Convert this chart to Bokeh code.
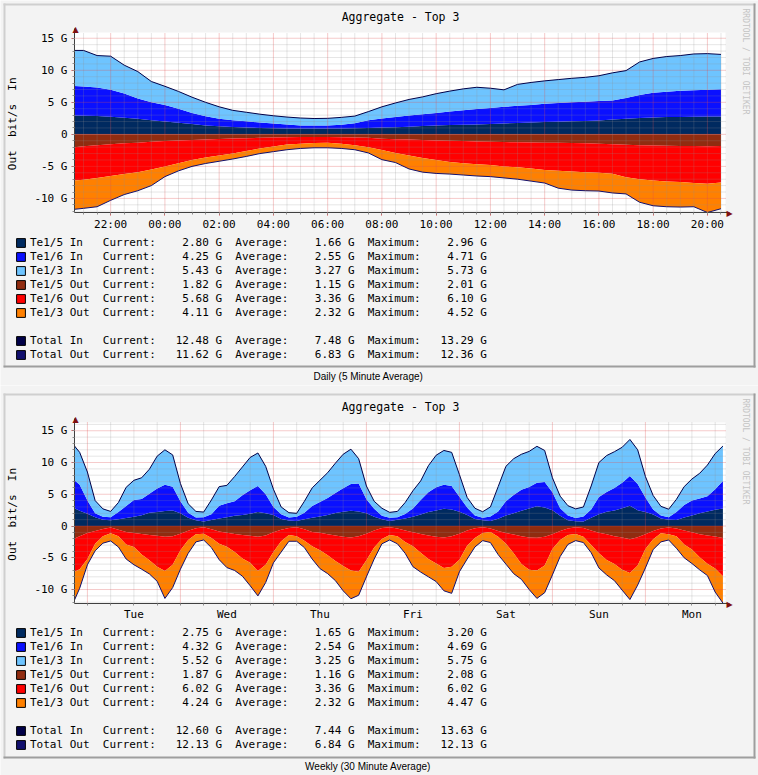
import math
from bokeh.plotting import figure
from bokeh.layouts import column
from bokeh.models import (ColumnDataSource, Range1d, FixedTicker, Label, LinearAxis,
                          Legend, LegendItem, BoxAnnotation)
from bokeh.embed import file_html
from bokeh.resources import INLINE

MONO = "DejaVu Sans Mono"
SANS = "Liberation Sans"
BG = "#f3f3f3"
NB = "\u00a0"
NAN = float("nan")

series_names = ["Te1/5 In", "Te1/6 In", "Te1/3 In", "Te1/5 Out", "Te1/6 Out", "Te1/3 Out"]
series_colors = ["#002a60", "#0a10ff", "#6ec4ff", "#902c10", "#ff0000", "#ff8000"]
total_names = ["Total In", "Total Out"]
total_colors = ["#000048", "#12106e"]

# ---------------- Daily (hours since midnight of first day) ----------------
day_times = [20 + 40 / 60] + [21.0 + 0.5 * i for i in range(48)]
day_te15_in = [2.95, 2.9, 2.85, 2.75, 2.6, 2.45, 2.2, 2.0, 1.8, 1.6,
               1.4, 1.25, 1.15, 1.05, 1.0, 0.95, 0.92, 0.9, 0.9, 0.9,
               0.9, 0.95, 1.0, 1.05, 1.1, 1.2, 1.3, 1.38, 1.45, 1.5,
               1.55, 1.6, 1.7, 1.78, 1.85, 1.92, 1.98, 2.05, 2.1, 2.15,
               2.3, 2.45, 2.55, 2.65, 2.7, 2.72, 2.75, 2.78, 2.80]
day_te16_in = [4.6, 4.57, 4.48, 4.23, 3.76, 3.13, 2.82, 2.57, 2.18, 1.75,
               1.42, 1.17, 1.05, 0.98, 0.86, 0.75, 0.63, 0.5, 0.5, 0.5,
               0.6, 0.8, 1.22, 1.43, 1.62, 1.74, 1.85, 1.96, 2.1, 2.25,
               2.4, 2.5, 2.6, 2.67, 2.75, 2.86, 2.9, 2.95, 2.99, 3.05,
               3.0, 3.23, 3.6, 3.85, 3.95, 4.08, 4.13, 4.17, 4.25]
day_te13_in = [5.55, 5.63, 4.97, 5.22, 4.44, 4.22, 3.23, 2.93, 2.72, 2.45,
               2.18, 1.88, 1.55, 1.42, 1.29, 1.2, 1.15, 1.15, 1.07, 1.1,
               1.15, 1.1, 1.33, 1.82, 2.18, 2.51, 2.7, 3.01, 3.2, 3.35,
               3.4, 3.1, 2.65, 3.35, 3.5, 3.57, 3.67, 3.75, 3.81, 3.95,
               4.3, 4.27, 5.15, 5.35, 5.5, 5.5, 5.67, 5.65, 5.43]
day_te15_out = [2.0, 1.85, 1.7, 1.55, 1.4, 1.3, 1.15, 1.05, 0.95, 0.88,
                0.8, 0.72, 0.65, 0.6, 0.55, 0.5, 0.45, 0.42, 0.42, 0.42,
                0.45, 0.5, 0.55, 0.68, 0.75, 0.82, 0.88, 0.95, 1.0, 1.05,
                1.1, 1.15, 1.2, 1.25, 1.28, 1.3, 1.33, 1.35, 1.38, 1.45,
                1.55, 1.62, 1.7, 1.75, 1.78, 1.82, 1.82, 1.85, 1.82]
day_te16_out = [5.2, 5.25, 5.1, 4.95, 4.8, 4.6, 4.35, 3.95, 3.55, 3.12,
                2.8, 2.58, 2.35, 2.0, 1.65, 1.4, 1.15, 1.03, 0.93, 0.88,
                1.0, 1.2, 1.45, 1.77, 2.15, 2.48, 2.82, 3.05, 3.3, 3.45,
                3.55, 3.65, 3.8, 3.9, 4.07, 4.25, 4.37, 4.45, 4.52, 4.55,
                4.6, 5.08, 5.3, 5.45, 5.57, 5.63, 5.78, 5.85, 5.68]
day_te13_out = [4.5, 4.45, 4.5, 3.8, 3.2, 2.9, 2.5, 1.6, 1.2, 1.0,
                0.95, 0.9, 0.85, 0.85, 0.8, 0.8, 0.8, 0.75, 0.75, 0.8,
                0.75, 0.7, 0.9, 1.5, 1.5, 2.1, 2.2, 2.1, 1.9, 1.85,
                1.85, 1.8, 1.8, 1.85, 1.95, 2.05, 2.7, 2.9, 2.9, 2.85,
                3.0, 2.6, 3.6, 3.95, 3.95, 3.9, 3.7, 4.5, 4.11]

day_current = [2.80, 4.25, 5.43, 1.82, 5.68, 4.11]
day_average = [1.66, 2.55, 3.27, 1.15, 3.36, 2.32]
day_maximum = [2.96, 4.71, 5.73, 2.01, 6.10, 4.52]
day_total_current = [12.48, 11.62]
day_total_average = [7.48, 6.83]
day_total_maximum = [13.29, 12.36]

day_tick_hours = [22, 24, 26, 28, 30, 32, 34, 36, 38, 40, 42, 44]
day_tick_labels = ["22:00", "00:00", "02:00", "04:00", "06:00", "08:00",
                   "10:00", "12:00", "14:00", "16:00", "18:00", "20:00"]

# ---------------- Weekly (hours since Monday 00:00) ----------------
week_times = [20 + 40 / 60, 22.0] + [24 + 2 * k for k in range(83)]
week_te15_in = [2.8, 2.4, 1.95, 1.4, 1.0, 0.9, 1.05, 1.25, 1.45, 1.7, 2.1, 2.2,
                2.35, 2.45, 2.0, 1.3, 0.9, 0.7, 0.95, 1.2, 1.4, 1.6,
                1.75, 1.95, 2.2, 2.0, 1.75, 1.1, 0.85, 0.8, 1.05, 1.3,
                1.5, 1.75, 2.05, 2.25, 2.4, 2.3, 2.0, 1.45, 1.05, 0.8,
                1.0, 1.2, 1.45, 1.8, 2.2, 2.45, 2.7, 2.6, 2.25, 1.75,
                1.1, 0.9, 0.8, 1.15, 1.65, 2.0, 2.4, 2.75, 3.1, 2.9,
                2.5, 1.6, 0.9, 0.75, 0.7, 1.3, 1.85, 2.25, 2.45, 2.8,
                3.2, 2.5, 2.2, 1.8, 1.2, 1.0, 0.95, 1.35, 1.65, 2.0,
                2.3, 2.55, 2.75]
week_te16_in = [4.4, 4.1, 2.05, 0.6, 0.45, 0.5, 1.15, 1.9, 2.65, 2.55, 3.0, 3.7,
                4.15, 3.75, 1.9, 0.8, 0.45, 0.7, 0.9, 2.0, 2.2, 2.3,
                3.1, 3.7, 4.1, 3.0, 1.25, 0.75, 0.5, 0.65, 1.05, 1.85,
                2.3, 2.65, 3.15, 3.7, 4.2, 4.4, 2.2, 1.25, 0.55, 0.5,
                0.4, 0.7, 1.3, 2.3, 3.1, 3.65, 3.8, 3.7, 2.35, 1.15,
                0.55, 0.4, 0.7, 1.15, 2.25, 2.9, 3.3, 3.4, 3.7, 4.05,
                2.8, 1.2, 0.75, 0.5, 0.8, 1.3, 2.7, 3.1, 3.55, 4.0,
                4.69, 4.1, 2.3, 0.8, 0.45, 0.4, 1.25, 1.95, 2.35, 2.35,
                2.4, 3.25, 4.32]
week_te13_in = [5.4, 5.1, 4.5, 2.0, 1.25, 0.9, 1.5, 2.95, 3.1, 3.35, 3.85, 5.1,
                5.5, 5.0, 2.8, 1.4, 0.95, 0.8, 2.25, 3.0, 2.8, 3.9,
                4.45, 5.15, 5.2, 4.4, 2.8, 1.15, 0.75, 0.55, 1.8, 2.85,
                3.4, 4.0, 4.7, 5.35, 5.5, 3.9, 2.1, 1.2, 1.2, 0.85,
                0.9, 1.8, 2.8, 3.0, 4.2, 5.05, 5.4, 5.3, 3.5, 1.6,
                1.15, 0.95, 1.5, 3.9, 5.5, 5.7, 5.6, 5.6, 5.75, 4.95,
                2.3, 1.9, 1.55, 1.45, 1.5, 3.7, 5.45, 5.75, 5.7, 5.6,
                5.74, 5.4, 3.3, 2.2, 1.45, 1.25, 2.0, 2.9, 3.4, 3.95,
                4.9, 5.6, 5.52]
week_te15_out = [1.95, 1.6, 1.1, 0.8, 0.45, 0.25, 0.6, 0.95, 1.1, 1.25, 1.4, 1.55,
                 1.7, 1.6, 1.2, 0.75, 0.35, 0.2, 0.5, 0.85, 1.05, 1.25,
                 1.4, 1.55, 1.7, 1.5, 1.0, 0.6, 0.3, 0.2, 0.5, 0.95,
                 1.05, 1.3, 1.5, 1.7, 1.8, 1.6, 1.2, 0.7, 0.3, 0.2,
                 0.4, 0.7, 1.0, 1.25, 1.5, 1.7, 1.8, 1.6, 1.2, 0.7,
                 0.35, 0.2, 0.4, 0.8, 1.1, 1.35, 1.6, 1.8, 1.85, 1.7,
                 1.3, 0.8, 0.4, 0.2, 0.3, 0.7, 1.05, 1.3, 1.6, 1.8,
                 2.08, 1.75, 1.3, 0.8, 0.4, 0.25, 0.4, 0.7, 1.0, 1.3,
                 1.5, 1.65, 1.87]
week_te16_out = [5.25, 5.2, 4.1, 2.0, 1.15, 0.9, 1.0, 1.95, 2.2, 3.25, 4.0, 4.85,
                 5.4, 4.5, 2.6, 1.45, 0.95, 1.0, 1.4, 1.95, 2.2, 2.85,
                 3.7, 4.25, 5.4, 4.6, 3.1, 1.8, 1.1, 1.4, 1.8, 2.25,
                 2.75, 3.3, 4.0, 4.6, 5.2, 5.6, 4.2, 2.7, 1.75, 1.2,
                 1.2, 1.8, 2.2, 2.95, 3.7, 4.2, 4.8, 4.8, 4.1, 2.4,
                 1.55, 0.9, 0.55, 0.9, 1.7, 2.95, 4.4, 5.1, 5.15, 4.5,
                 2.3, 1.4, 1.0, 1.05, 1.4, 2.3, 3.25, 4.05, 4.4, 5.1,
                 5.3, 4.45, 2.3, 1.3, 0.75, 1.05, 1.2, 2.2, 2.7, 3.6,
                 4.45, 5.05, 6.02]
week_te13_out = [4.45, 3.0, 0.9, 1.1, 1.1, 1.2, 1.7, 2.3, 2.8, 2.3, 2.15, 2.3,
                 4.3, 3.6, 3.0, 2.1, 1.2, 1.0, 1.5, 2.5, 3.3, 2.9,
                 2.8, 3.6, 3.9, 2.8, 1.7, 1.7, 1.0, 0.8, 1.1, 2.0,
                 2.9, 2.9, 3.1, 3.9, 4.45, 3.7, 2.6, 1.8, 0.75, 0.8,
                 1.2, 1.8, 3.2, 3.05, 2.8, 2.85, 3.6, 4.2, 1.9, 2.1,
                 1.4, 1.2, 1.65, 2.8, 3.2, 3.2, 2.4, 3.1, 4.4, 4.3,
                 4.1, 2.6, 1.5, 1.05, 0.9, 1.2, 2.3, 2.35, 2.6, 3.2,
                 4.2, 3.1, 3.0, 1.6, 1.35, 0.9, 1.9, 2.1, 2.2, 2.0,
                 1.85, 3.7, 4.24]

week_current = [2.75, 4.32, 5.52, 1.87, 6.02, 4.24]
week_average = [1.65, 2.54, 3.25, 1.16, 3.36, 2.32]
week_maximum = [3.20, 4.69, 5.75, 2.08, 6.02, 4.47]
week_total_current = [12.60, 12.13]
week_total_average = [7.44, 6.84]
week_total_maximum = [13.63, 12.13]

week_tick_hours = [36, 60, 84, 108, 132, 156, 180]
week_tick_labels = ["Tue", "Wed", "Thu", "Fri", "Sat", "Sun", "Mon"]

y_tick_values = [-10, -5, 0, 5, 10, 15]
y_tick_labels = ["-10 G", "-5 G", "0", "5 G", "10 G", "15 G"]

W = 758
PL, PW = 74, 651          # plot-area left edge and width, in canvas pixels


def legend_text(name, cur, avg, mx):
    s = f"{name:<11}Current:{cur:8.2f} G  Average:{avg:8.2f} G  Maximum:{mx:8.2f} G"
    return s.replace(" ", NB)


def add_label(p, H, x, y, text, **kw):
    try:
        lab = Label(x=x, y=y, x_units="canvas", y_units="canvas", text=text, **kw)
    except Exception:
        lab = Label(x=x, y=H - y, x_units="screen", y_units="screen", text=text, **kw)
    p.add_layout(lab)


def add_box(p, left, right, top, bottom, color):
    try:
        b = BoxAnnotation(left=left, right=right, top=top, bottom=bottom,
                          left_units="canvas", right_units="canvas",
                          top_units="canvas", bottom_units="canvas",
                          fill_color=color, fill_alpha=1.0, line_color=None, level="overlay")
    except Exception:
        return
    p.add_layout(b)


def make_chart(cfg, times, ins, outs, cur, avg, mx, tcur, tavg, tmx):
    H, PT, PH = cfg["height"], cfg["plot_top"], cfg["plot_h"]
    t0, t1 = cfg["xr"]
    vbot, vtop = cfg["yr"]
    pph = PW / (t1 - t0)
    ppg = PH / (vtop - vbot)

    def tx(cx):
        return t0 + (cx - PL) / pph

    def vy(cy):
        return vtop - (cy - PT) / ppg

    p = figure(width=W, height=H, x_range=Range1d(tx(0), tx(W)), y_range=Range1d(vy(H), vy(0)),
               min_border=0, x_axis_location=None, y_axis_location=None,
               toolbar_location=None, output_backend="svg",
               background_fill_color=BG, border_fill_color=BG, outline_line_color=None)
    p.grid.visible = False

    # white plot canvas
    p.add_layout(BoxAnnotation(left=t0, right=t1, bottom=vbot, top=vtop, fill_color="white",
                               fill_alpha=1.0, line_color=None, level="underlay"))

    src = ColumnDataSource(dict(
        t=times, a=ins[0], b=ins[1], c=ins[2],
        d=[-v for v in outs[0]], e=[-v for v in outs[1]], f=[-v for v in outs[2]],
        tin=[x + y + z for x, y, z in zip(*ins)],
        tout=[-(x + y + z) for x, y, z in zip(*outs)],
    ))
    p.varea_stack(stackers=["a", "b", "c"], x="t", color=series_colors[:3], source=src)
    p.varea_stack(stackers=["d", "e", "f"], x="t", color=series_colors[3:], source=src)

    # grid (dotted, drawn over the areas as rrdtool does)
    ygrid_minor = [v for v in range(-12, 17) if v % 5 != 0 and vbot < v < vtop]
    for xs, color, alpha in [(cfg["xgrid_minor"], "#8f8f8f", 0.45), (cfg["xgrid_major"], "#e05050", 0.6)]:
        p.segment(x0=xs, x1=xs, y0=[vbot] * len(xs), y1=[vtop] * len(xs),
                  line_color=color, line_alpha=alpha, line_dash="1 1", line_width=1)
    for ys, color, alpha in [(ygrid_minor, "#8f8f8f", 0.45), (y_tick_values, "#e05050", 0.6)]:
        p.segment(x0=[t0] * len(ys), x1=[t1] * len(ys), y0=ys, y1=ys,
                  line_color=color, line_alpha=alpha, line_dash="1 1", line_width=1)

    p.line("t", "tin", color=total_colors[0], line_width=1, source=src)
    p.line("t", "tout", color=total_colors[1], line_width=1, source=src)

    # axes at the plot-area edges
    xa = LinearAxis(fixed_location=vbot, bounds=(t0, tx(PL + PW + 4)),
                    ticker=FixedTicker(ticks=cfg["xticks"], minor_ticks=cfg["xminor"]))
    xa.major_label_overrides = {t: lab for t, lab in zip(cfg["xticks"], cfg["xlabels"])}
    xa.major_tick_out = cfg["x_major_tick_out"]
    xa.major_tick_in = 0
    xa.minor_tick_out = 2
    xa.minor_tick_in = 0
    xa.major_label_standoff = 2

    ya = LinearAxis(fixed_location=t0, bounds=(vbot, vy(PT - 4)),
                    ticker=FixedTicker(ticks=y_tick_values, minor_ticks=list(range(-12, 16))))
    ya.major_label_overrides = {t: lab for t, lab in zip(y_tick_values, y_tick_labels)}
    ya.major_tick_out = 3
    ya.major_tick_in = 0
    ya.minor_tick_out = 2
    ya.minor_tick_in = 0
    ya.major_label_standoff = 4
    ya.axis_label = "Out" + NB * 2 + "bit/s" + NB * 2 + "In" + NB
    ya.axis_label_standoff = 12
    ya.axis_label_text_font = MONO
    ya.axis_label_text_font_size = "11px"
    ya.axis_label_text_font_style = "normal"
    ya.axis_label_text_color = "#000000"

    for ax in (xa, ya):
        ax.axis_line_color = "#404040"
        ax.major_tick_line_color = "#e05050"
        ax.minor_tick_line_color = "#8f8f8f"
        ax.major_label_text_font = MONO
        ax.major_label_text_font_size = "11px"
        ax.major_label_text_color = "#000000"
    p.add_layout(xa, "below")
    p.add_layout(ya, "left")

    # legend (swatch renderers carry no visible data: NaN placeholders)
    items = []
    for name, color, c_, a_, m_ in zip(series_names, series_colors, cur, avg, mx):
        r = p.quad(left=[NAN], right=[NAN], top=[NAN], bottom=[NAN], fill_color=color,
                   line_color="#000000", line_width=1)
        items.append(LegendItem(label=legend_text(name, c_, a_, m_), renderers=[r]))
    blank = p.quad(left=[NAN], right=[NAN], top=[NAN], bottom=[NAN], fill_alpha=0, line_alpha=0)
    items.append(LegendItem(label=NB, renderers=[blank]))
    for name, color, c_, a_, m_ in zip(total_names, total_colors, tcur, tavg, tmx):
        r = p.quad(left=[NAN], right=[NAN], top=[NAN], bottom=[NAN], fill_color=color,
                   line_color="#000000", line_width=1)
        items.append(LegendItem(label=legend_text(name, c_, a_, m_), renderers=[r]))
    legend = Legend(items=items, location=(15, H - (cfg["legend_top"] + 14 * len(items))),
                    orientation="vertical", padding=0, margin=0, spacing=0,
                    glyph_width=11, glyph_height=11, label_height=14, label_standoff=4,
                    label_text_font=MONO, label_text_font_size="11px", label_text_color="#000000",
                    background_fill_alpha=0, border_line_alpha=0)
    p.add_layout(legend)

    # box shading (rrdtool 3-D frame)
    bt, bb = cfg["box_top"], cfg["box_bottom"]
    add_box(p, 3, 755, bt, bt + 2, "#cfcfcf")
    add_box(p, 3, 5, bt, bb, "#cfcfcf")
    add_box(p, 753, 755, bt, bb, "#9e9e9e")
    add_box(p, 3, 755, bb - 2, bb, "#9e9e9e")

    add_label(p, H, 400, cfg["title_y"], "Aggregate - Top 3", text_font=MONO,
              text_font_size="11.5px", text_align="center", text_baseline="middle",
              text_color="#000000")
    add_label(p, H, 745, cfg["wm_y"], "RRDTOOL / TOBI OETIKER", text_font=MONO,
              text_font_size="8px", text_align="left", text_baseline="middle",
              text_color="#c4c4c4", angle=-math.pi / 2)
    add_label(p, H, 75, PT - 3.5, "\u25B2", text_font="DejaVu Sans",
              text_font_size="8px", text_align="center", text_baseline="middle",
              text_color="#801010")
    add_label(p, H, 729, PT + PH + 1, "\u25B6", text_font="DejaVu Sans",
              text_font_size="8px", text_align="center", text_baseline="middle",
              text_color="#801010")
    add_label(p, H, cfg["caption_x"], cfg["caption_y"], cfg["caption"], text_font=SANS,
              text_font_size="10px", text_align="center", text_baseline="middle",
              text_color="#000000")
    return p


day_cfg = dict(
    height=385, plot_top=32, plot_h=180,
    xr=(20 + 40 / 60, 44 + 40 / 60), yr=(-12.2, 15.9),
    xticks=day_tick_hours, xlabels=day_tick_labels,
    xminor=[21 + 0.5 * i for i in range(48)],
    xgrid_minor=[h for h in [21 + 0.5 * i for i in range(48)] if h % 2 != 0],
    xgrid_major=day_tick_hours, x_major_tick_out=3,
    legend_top=235, box_top=3, box_bottom=367,
    title_y=16, wm_y=8, caption="Daily (5 Minute Average)", caption_x=368, caption_y=376,
)
week_cfg = dict(
    height=390, plot_top=37, plot_h=181,
    xr=(20 + 40 / 60, 188 + 40 / 60), yr=(-12.2, 16.3),
    xticks=week_tick_hours, xlabels=week_tick_labels,
    xminor=[24 + 6 * i for i in range(28)],
    xgrid_minor=[24 + 6 * i for i in range(28) if i % 4 != 0],
    xgrid_major=[24 * d for d in range(1, 8)], x_major_tick_out=0,
    legend_top=240, box_top=8, box_bottom=373,
    title_y=21, wm_y=13, caption="Weekly (30 Minute Average)", caption_x=367.5, caption_y=381,
)

p_day = make_chart(day_cfg, day_times,
                   [day_te15_in, day_te16_in, day_te13_in],
                   [day_te15_out, day_te16_out, day_te13_out],
                   day_current, day_average, day_maximum,
                   day_total_current, day_total_average, day_total_maximum)
p_week = make_chart(week_cfg, week_times,
                    [week_te15_in, week_te16_in, week_te13_in],
                    [week_te15_out, week_te16_out, week_te13_out],
                    week_current, week_average, week_maximum,
                    week_total_current, week_total_average, week_total_maximum)

layout = column(p_day, p_week, spacing=0)
open("out.html", "w").write(file_html(layout, INLINE))
